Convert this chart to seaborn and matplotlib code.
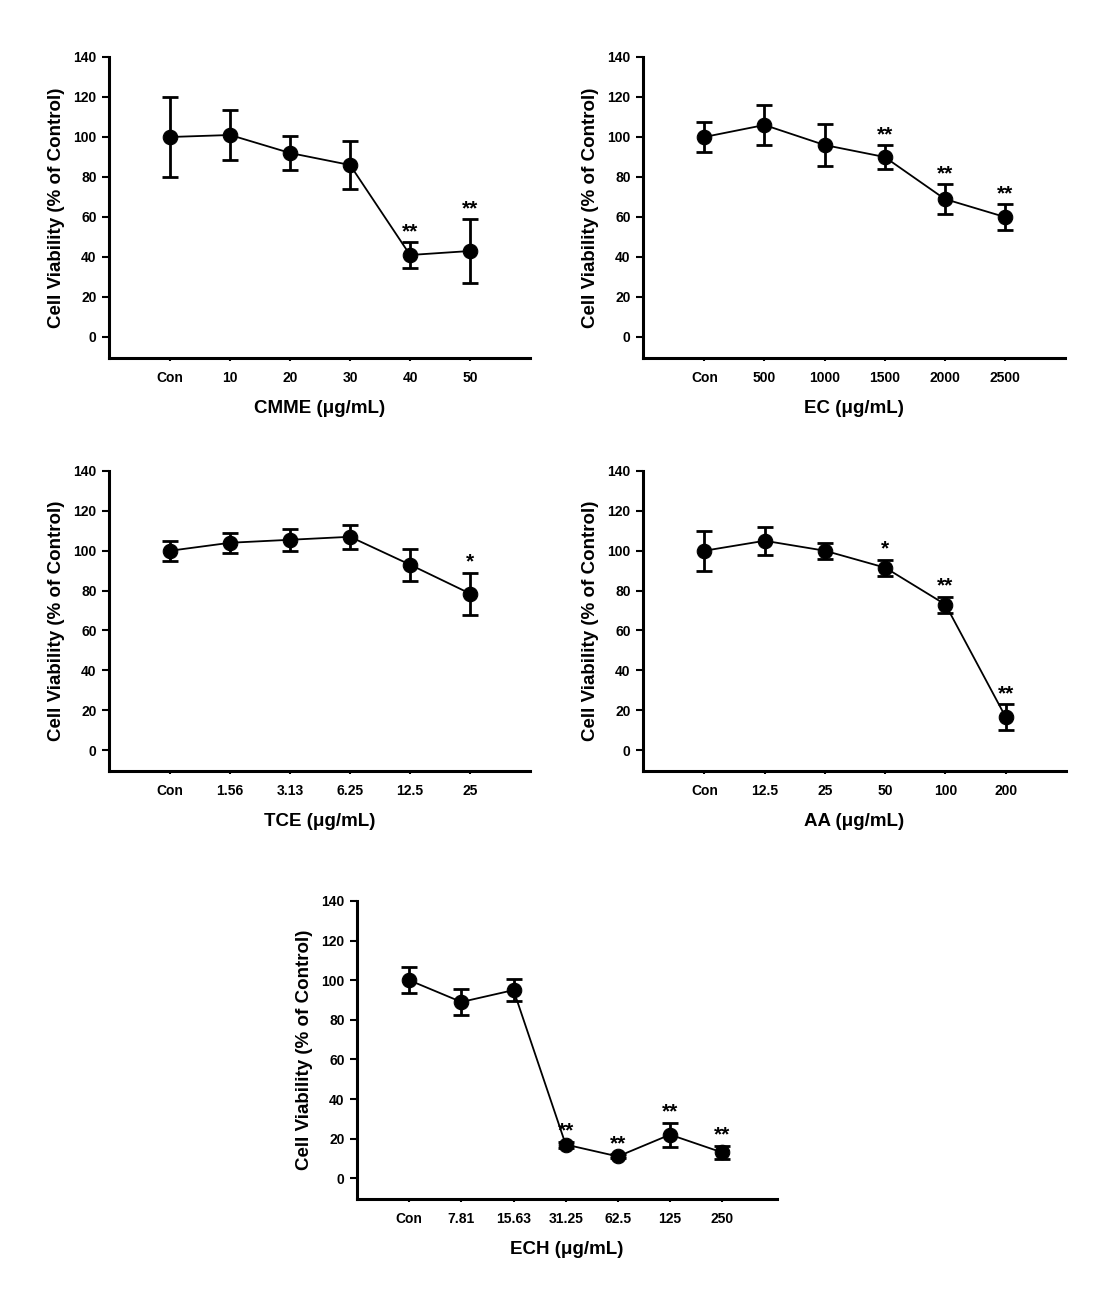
import numpy as np
import pandas as pd
import matplotlib
matplotlib.use("Agg")
import matplotlib.pyplot as plt
import seaborn as sns

sns.set_theme(style="ticks")
plt.rcParams['font.family'] = ['Liberation Sans', 'DejaVu Sans']
plt.rcParams['font.weight'] = 'bold'
plt.rcParams['text.color'] = 'black'
plt.rcParams['axes.labelcolor'] = 'black'
plt.rcParams['xtick.color'] = 'black'
plt.rcParams['ytick.color'] = 'black'
plt.rcParams['axes.edgecolor'] = 'black'

# ---- data ----
cmme_labels = ["Con", "10", "20", "30", "40", "50"]
cmme_mean = [100, 101, 92, 86, 41, 43]
cmme_err = [20, 12.5, 8.5, 12, 6.5, 16]
cmme_sig = ["", "", "", "", "**", "**"]

ec_labels = ["Con", "500", "1000", "1500", "2000", "2500"]
ec_mean = [100, 106, 96, 90, 69, 60]
ec_err = [7.5, 10, 10.5, 6, 7.5, 6.5]
ec_sig = ["", "", "", "**", "**", "**"]

tce_labels = ["Con", "1.56", "3.13", "6.25", "12.5", "25"]
tce_mean = [100, 104, 105.5, 107, 93, 78.5]
tce_err = [5, 5, 5.5, 6, 8, 10.5]
tce_sig = ["", "", "", "", "", "*"]

aa_labels = ["Con", "12.5", "25", "50", "100", "200"]
aa_mean = [100, 105, 100, 91.5, 73, 16.5]
aa_err = [10, 7, 4, 4, 4, 6.5]
aa_sig = ["", "", "", "*", "**", "**"]

ech_labels = ["Con", "7.81", "15.63", "31.25", "62.5", "125", "250"]
ech_mean = [100, 89, 95, 17, 11, 22, 13]
ech_err = [6.5, 6.5, 5.5, 1.5, 1, 6, 3.5]
ech_sig = ["", "", "", "**", "**", "**", "**"]

panels = [
    ("CMME", cmme_labels, cmme_mean, cmme_err, cmme_sig),
    ("EC", ec_labels, ec_mean, ec_err, ec_sig),
    ("TCE", tce_labels, tce_mean, tce_err, tce_sig),
    ("AA", aa_labels, aa_mean, aa_err, aa_sig),
    ("ECH", ech_labels, ech_mean, ech_err, ech_sig),
]

W, H = 1115, 1291
fig = plt.figure(figsize=(W / 100, H / 100), dpi=100)

# pixel boxes: left, right, top(y=140), bottom spine, right x-limit
boxes = [
    (109, 530, 57, 358, 6.0),
    (643, 1065, 57, 358, 6.0),
    (109, 530, 471, 771, 6.0),
    (643, 1066, 471, 771, 6.0),
    (357, 777, 901, 1199, 7.05),
]

for (name, labels, mean, err, sig), (l, r, t, b, xr) in zip(panels, boxes):
    ax = fig.add_axes([l / W, 1 - b / H, (r - l) / W, (b - t) / H])
    df = pd.DataFrame({"x": np.arange(len(labels)), "y": mean, "err": err})
    ax.errorbar(df["x"], df["y"], yerr=df["err"], fmt="none", ecolor="black",
                elinewidth=2.0, capsize=5.5, capthick=2.0, zorder=2)
    sns.lineplot(data=df, x="x", y="y", ax=ax, color="black", linewidth=1.3,
                 marker="o", markersize=10.5, markeredgecolor="black",
                 markerfacecolor="black", zorder=3)
    for xi, (m, e, s) in enumerate(zip(mean, err, sig)):
        if s:
            ax.text(xi, m + e + 0.5, s, ha="center", va="bottom", fontsize=15,
                    fontweight="bold", color="black")
    ax.set_xlim(-1.0 if len(labels) == 7 else -1.02, xr)
    ax.set_ylim(-10.5, 140)
    ax.set_yticks(np.arange(0, 141, 20))
    ax.set_xticks(np.arange(len(labels)))
    ax.set_xticklabels(labels)
    for lab in ax.get_xticklabels() + ax.get_yticklabels():
        lab.set_fontweight("bold")
        lab.set_fontsize(10)
    ax.tick_params(axis="y", length=5, width=1.5, direction="out", pad=4, colors="black")
    ax.tick_params(axis="x", length=2.5, width=1.5, direction="out", pad=7, colors="black")
    ax.spines["top"].set_visible(False)
    ax.spines["right"].set_visible(False)
    ax.spines["left"].set_linewidth(2.2)
    ax.spines["bottom"].set_linewidth(2.2)
    ax.spines["left"].set_bounds(-10.5, 140)
    ax.set_xlabel(f"{name} (\u03bcg/mL)", fontsize=13.5, fontweight="bold",
                  labelpad=11, color="black")
    ax.set_ylabel("Cell Viability (% of Control)", fontsize=13.5, fontweight="bold",
                  labelpad=6, color="black")
    ax.set_facecolor("white")

fig.patch.set_facecolor("white")
fig.savefig("out.png", dpi=100, facecolor="white")
